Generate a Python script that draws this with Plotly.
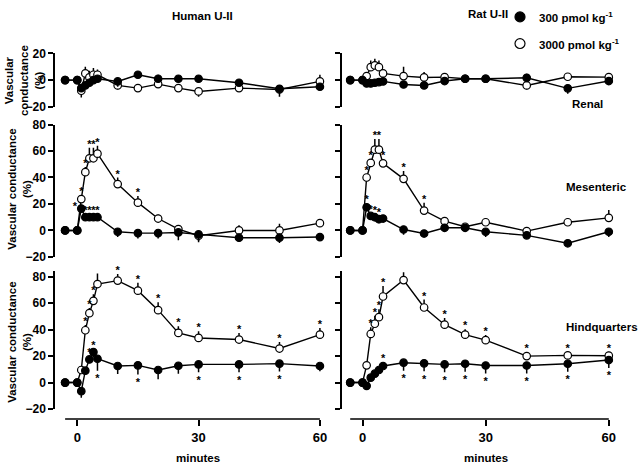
import plotly.graph_objects as go

# time points (minutes after injection)
minutes = [-3, 0, 1, 2, 3, 4, 5, 10, 15, 20, 25, 30, 40, 50, 60]

# vascular conductance (%) ; err: + means bar up, - means bar down
# sig: 1 star above, -1 star below, 2 star to the left
renal_h_300 = [0, 0, -6, -4, -2, 0, 1, -1, 4, 1, 1, 1, -2, -6.5, -5]
renal_h_300_err = [0, 0, -3, 0, 0, 0, 0, -4, 0, 3, 0, 0, -2, -6, 0]
renal_h_300_sig = [0] * 15
renal_h_3000 = [0, 0, -8, 5, 2, 4, 4, -4, -6, -3, -6, -8.5, -6, -7, -1]
renal_h_3000_err = [0, 0, -5, 5, 5, 5, 4, -3, 0, -3, 0, -4, 0, -3, 5]
renal_h_3000_sig = [0] * 15

renal_r_300 = [0, 0, -2.5, -2.5, -2, -1.5, -1, -3.3, -4, -0.7, 1, 1, 1.7, -6.2, -0.7]
renal_r_300_err = [0, 0, 0, 0, 0, 0, 0, -2, -2, 0, 0, 0, 3, -4, -3]
renal_r_300_sig = [0] * 15
renal_r_3000 = [0, 0, 3, 9.7, 11, 9.7, 5, 3, 2, 2.2, 1, 1, -4, 2.5, 2.2]
renal_r_3000_err = [0, 0, 0, 5, 5, 5, 0, 7, 4, 0, 3, 0, -3, 0, 2]
renal_r_3000_sig = [0] * 15

mes_h_300 = [0, 0, 16.5, 10, 10, 10, 10, -1, -2, -2, -1.5, -3, -5.5, -5.5, -5]
mes_h_300_err = [0, 0, 3, 2, 2, 2, 2, -4, -4, -4, -6, -5, -3, -4, -3]
mes_h_300_sig = [0, 0, 2, 1, 1, 1, 1, 0, 0, 0, 0, 0, 0, 0, 0]
mes_h_3000 = [0, 0, 23.7, 44, 54.5, 54.5, 58, 35, 21, 9, 1, -4, 0, 0, 5.5]
mes_h_3000_err = [0, 0, 3, 4, 8, 8, 6, 5, 5, 3, 3, -5, 4, 5, 3]
mes_h_3000_sig = [0, 0, 1, 1, 1, 1, 1, 1, 1, 0, 0, 0, 0, 0, 0]

mes_r_300 = [0, 0, 17.5, 11, 10, 8.5, 9, 0.7, -2.3, 2, 2, -1, -3.7, -9.7, -1]
mes_r_300_err = [0, 0, 3, 0, -3, -3, 0, -4, -3, 0, 0, -4, 0, 0, -4]
mes_r_300_sig = [0, 0, 1, 1, 1, 1, 0, 0, 0, 0, 0, 0, 0, 0, 0]
mes_r_3000 = [0, 0, 40, 51, 61, 61, 50.7, 39, 15, 7, 2.8, 6.2, -0.5, 6.2, 9.5]
mes_r_3000_err = [0, 0, -3, 3, 8, 8, 3, 6, 6, 0, 0, 3, 3, 3, 6]
mes_r_3000_sig = [0, 0, 1, 1, 1, 1, 1, 1, 1, 0, 0, 0, 0, 0, 0]

hind_h_300 = [0, 0, -6.5, 9, 17.5, 23, 18, 12.5, 13, 9.5, 12.7, 13.7, 13.7, 14.3, 12.5]
hind_h_300_err = [0, 0, -5, 0, -2, -4, -9, -6, -7, -7, -6, -6, -6, -6, -4]
hind_h_300_sig = [0, 0, 0, 0, 1, 1, -1, 0, -1, 0, 0, -1, -1, -1, 0]
hind_h_3000 = [0, 0, 9.5, 39.5, 52.4, 61.7, 74.4, 77, 69.4, 54.7, 37.5, 33.7, 32.5, 25.7, 36.2]
hind_h_3000_err = [0, 0, 0, 4, 4, 5, 8, 5, 6, 6, 5, 5, 5, 5, 5]
hind_h_3000_sig = [0, 0, 0, 1, 1, 1, 1, 1, 1, 1, 1, 1, 1, 1, 1]

hind_r_300 = [0, 0, -2.5, 3.7, 6.7, 9.5, 12.5, 15, 14.5, 13.7, 14.2, 12.9, 12.9, 14.2, 17]
hind_r_300_err = [0, 0, 0, 0, 0, 0, 3, -6, -6, -6, -6, -6, -6, -6, -6]
hind_r_300_sig = [0, 0, 0, 0, 0, 0, 1, -1, -1, -1, -1, -1, -1, -1, -1]
hind_r_3000 = [0, 0, 13, 36.7, 44.4, 49.4, 65, 77.4, 56.7, 43.7, 36.2, 32, 20, 20.5, 20.3]
hind_r_3000_err = [0, 0, 0, 5, 6, 6, 8, 6, 6, 5, 4, 4, 3, 3, 3]
hind_r_3000_sig = [0, 0, 0, 1, 1, 1, 1, 1, 1, 1, 1, 1, 1, 1, 1]

FONT = "Liberation Sans, Arial, sans-serif"
W, H = 640, 467


def Y(py):
    # vertical pixel position -> paper coordinate (small correction for the page render)
    return 1 - ((py - 5.0) / 0.982) / H


# (subplot index, low dose, high dose)
panels = [
    (1, (renal_h_300, renal_h_300_err, renal_h_300_sig), (renal_h_3000, renal_h_3000_err, renal_h_3000_sig)),
    (2, (renal_r_300, renal_r_300_err, renal_r_300_sig), (renal_r_3000, renal_r_3000_err, renal_r_3000_sig)),
    (3, (mes_h_300, mes_h_300_err, mes_h_300_sig), (mes_h_3000, mes_h_3000_err, mes_h_3000_sig)),
    (4, (mes_r_300, mes_r_300_err, mes_r_300_sig), (mes_r_3000, mes_r_3000_err, mes_r_3000_sig)),
    (5, (hind_h_300, hind_h_300_err, hind_h_300_sig), (hind_h_3000, hind_h_3000_err, hind_h_3000_sig)),
    (6, (hind_r_300, hind_r_300_err, hind_r_300_sig), (hind_r_3000, hind_r_3000_err, hind_r_3000_sig)),
]

fig = go.Figure()


def add_series(k, vals, err, sig, filled):
    sfx = "" if k == 1 else str(k)
    fig.add_trace(go.Scatter(
        x=minutes, y=vals, mode="lines+markers", xaxis="x" + sfx, yaxis="y" + sfx,
        line=dict(color="black", width=1.4),
        marker=dict(size=7.5, color="black" if filled else "white", line=dict(color="black", width=1.2)),
        error_y=dict(type="data", symmetric=False,
                     array=[max(e, 0) for e in err], arrayminus=[max(-e, 0) for e in err],
                     width=0, thickness=1.5, color="black"),
        showlegend=False, cliponaxis=False, hoverinfo="skip"))
    # significance stars
    sx, sy = [], []
    for t, v, e, s in zip(minutes, vals, err, sig):
        if s == 1:
            sx.append(t)
            sy.append(v + max(e, 2.5) + 2.0)
        elif s == -1:
            sx.append(t)
            sy.append(v - max(-e, 2.5) - 6.5)
        elif s == 2:
            sx.append(t - 1.6)
            sy.append(v + 1.0)
    if sx:
        fig.add_trace(go.Scatter(
            x=sx, y=sy, mode="text", text=["*"] * len(sx), textposition="middle center",
            textfont=dict(family=FONT, size=11, color="black", weight="bold"),
            xaxis="x" + sfx, yaxis="y" + sfx, showlegend=False, cliponaxis=False, hoverinfo="skip"))


for k, low, high in panels:
    add_series(k, *high, filled=False)
    add_series(k, *low, filled=True)

x_domains = {1: [55 / W, 328 / W], 2: [342 / W, 617 / W]}
x_ranges = {1: [-5.5, 62], 2: [-5, 62]}
y_domains = {1: [Y(106), Y(52)], 2: [Y(258), Y(124)], 3: [Y(412), Y(272.6)]}
y_ranges = {1: [-20, 20], 2: [-20, 80], 3: [-20, 84]}
y_ticks = {1: [-20, 0, 20], 2: [-20, 0, 20, 40, 60, 80], 3: [-20, 0, 20, 40, 60, 80]}
xaxis_pos = Y(422)

tickfont = dict(family=FONT, size=12, color="black", weight="bold")
axes = {}
for r in (1, 2, 3):
    for c in (1, 2):
        k = (r - 1) * 2 + c
        sfx = "" if k == 1 else str(k)
        xa = dict(domain=x_domains[c], range=x_ranges[c], showgrid=False, zeroline=False,
                  showline=False, anchor="y" + sfx)
        if r == 3:
            xa.update(anchor="free", position=xaxis_pos, ticks="outside", ticklen=6, tickwidth=1.5,
                      tickcolor="black", tickvals=[0, 30, 60], tickfont=dict(tickfont, size=13))
        else:
            xa.update(visible=False)
        axes["xaxis" + sfx] = xa
        axes["yaxis" + sfx] = dict(domain=y_domains[r], range=y_ranges[r], anchor="x" + sfx,
                                   showgrid=False, zeroline=False, showline=True, linewidth=1.5,
                                   linecolor="black", ticks="outside", ticklen=5, tickwidth=1.5,
                                   tickcolor="black", tickvals=y_ticks[r], showticklabels=(c == 1),
                                   tickfont=tickfont)
fig.update_layout(**axes)

# x-axis lines only span the measured period
for k in (5, 6):
    fig.add_shape(type="line", xref="x%d" % k, yref="paper", x0=minutes[0], x1=minutes[-1],
                  y0=xaxis_pos, y1=xaxis_pos, line=dict(color="black", width=1.5))

lab = dict(family=FONT, size=11.5, color="black", weight="bold")


def note(text, px, py, xanchor="center", **kw):
    fig.add_annotation(text=text, x=px / W, y=Y(py), xref="paper", yref="paper",
                       xanchor=xanchor, yanchor="middle", showarrow=False, font=lab, **kw)


note("Human U-II", 202, 14)
note("Rat U-II", 488, 12)
note("Renal", 587, 103)
note("Mesenteric", 596, 187)
note("Hindquarters", 640, 329, xanchor="right")
note("minutes", 198, 462)
note("minutes", 486, 462)
note("Vascular<br>conductance<br>(%)", 24, 80, textangle=-90)
note("Vascular conductance<br>(%)", 20, 190, textangle=-90)
note("Vascular conductance<br>(%)", 20, 345, textangle=-90)

# legend: symbols and labels
for py, fill, name in ((15, "black", "300 pmol kg<sup>-1</sup>"), (42, "white", "3000 pmol kg<sup>-1</sup>")):
    fig.add_shape(type="circle", xref="paper", yref="paper",
                  x0=515 / W, x1=525 / W, y0=Y(py + 5), y1=Y(py - 5),
                  fillcolor=fill, line=dict(color="black", width=1.2))
    note(name, 537, py, xanchor="left")

fig.update_layout(
    width=W, height=H, margin=dict(l=0, r=0, t=0, b=0),
    paper_bgcolor="white", plot_bgcolor="white", showlegend=False,
)

fig.write_html("out.html", config={"displayModeBar": False},
               post_script="document.body.style.margin='0px';document.body.style.overflow='hidden';")
